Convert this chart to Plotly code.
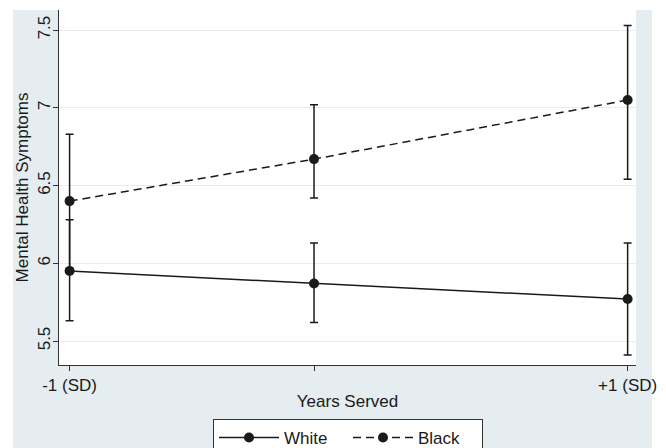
import plotly.graph_objects as go

# ---- data ----
x_positions = [-1.0, -0.124, 1.0]
x_tick_labels = ["-1 (SD)", "", "+1 (SD)"]
y_tick_values = [5.5, 6.0, 6.5, 7.0, 7.5]
y_tick_labels = ["5.5", "6", "6.5", "7", "7.5"]

white_mean = [5.95, 5.87, 5.77]
white_lo = [5.63, 5.62, 5.41]
white_hi = [6.28, 6.13, 6.13]

black_mean = [6.40, 6.67, 7.05]
black_lo = [5.97, 6.42, 6.54]
black_hi = [6.83, 7.02, 7.53]

FONT = "Liberation Sans, Arial, sans-serif"
INK = "#1a1a1a"
PANEL = "#E5EDF1"
FS = 17

fig = go.Figure()


def add_series(name, mean, lo, hi, dash):
    fig.add_trace(go.Scatter(
        x=x_positions, y=mean, name=name, mode="lines+markers",
        line=dict(color=INK, width=1.5, dash=dash),
        marker=dict(color=INK, size=10, symbol="circle"),
        error_y=dict(type="data", symmetric=False,
                     array=[h - m for h, m in zip(hi, mean)],
                     arrayminus=[m - l for m, l in zip(mean, lo)],
                     color=INK, thickness=1.5, width=4),
        cliponaxis=False,
    ))


add_series("White", white_mean, white_lo, white_hi, "solid")
add_series("Black", black_mean, black_lo, black_hi, "8px,5px")

L, R, T, B = 59, 30, 10, 83
W, H = 666, 448
pw, ph = W - L - R, H - T - B


def px_x(p):
    return (p - L) / pw


def px_y(p):
    return (H - B - p) / ph


# bluish-gray graph region, then white plot region on top of it
fig.add_shape(type="rect", xref="paper", yref="paper", layer="below",
              x0=px_x(13), x1=px_x(652), y0=px_y(T), y1=px_y(H + 5),
              fillcolor=PANEL, line=dict(width=0))
fig.add_shape(type="rect", xref="paper", yref="paper", layer="below",
              x0=0, x1=1, y0=0, y1=1,
              fillcolor="white", line=dict(width=0))

fig.update_layout(
    width=W, height=H, autosize=False,
    margin=dict(l=L, r=R, t=T, b=B, autoexpand=False),
    paper_bgcolor="white", plot_bgcolor="white",
    font=dict(family=FONT, size=FS, color=INK),
    showlegend=True,
    legend=dict(orientation="h", x=px_x(348), xanchor="center",
                y=px_y(419), yanchor="top",
                bgcolor="white", bordercolor="#333333", borderwidth=1,
                font=dict(size=FS), itemwidth=60, tracegroupgap=0,
                entrywidth=59, entrywidthmode="pixels"),
    xaxis=dict(range=[-1.038, 1.030], tickmode="array",
               tickvals=x_positions, ticktext=x_tick_labels,
               showgrid=False, zeroline=False,
               showline=True, linecolor="#333333", linewidth=1,
               ticks="outside", ticklen=5, tickcolor="#333333",
               tickfont=dict(size=FS),
               title=dict(text="Years Served", font=dict(size=FS), standoff=0)),
    yaxis=dict(range=[5.346, 7.629], tickmode="array",
               tickvals=y_tick_values, ticktext=y_tick_labels,
               tickangle=-90, ticklabelstandoff=-4,
               showgrid=True, gridcolor=PANEL, gridwidth=1,
               zeroline=False,
               showline=True, linecolor="#333333", linewidth=1,
               ticks="outside", ticklen=5, tickcolor="#333333",
               tickfont=dict(size=FS),
               title=dict(text="Mental Health Symptoms", font=dict(size=FS), standoff=2)),
)

fig.write_html("out.html", config={"displayModeBar": False},
               post_script="document.body.style.margin='0px';document.body.style.overflow='hidden';")
